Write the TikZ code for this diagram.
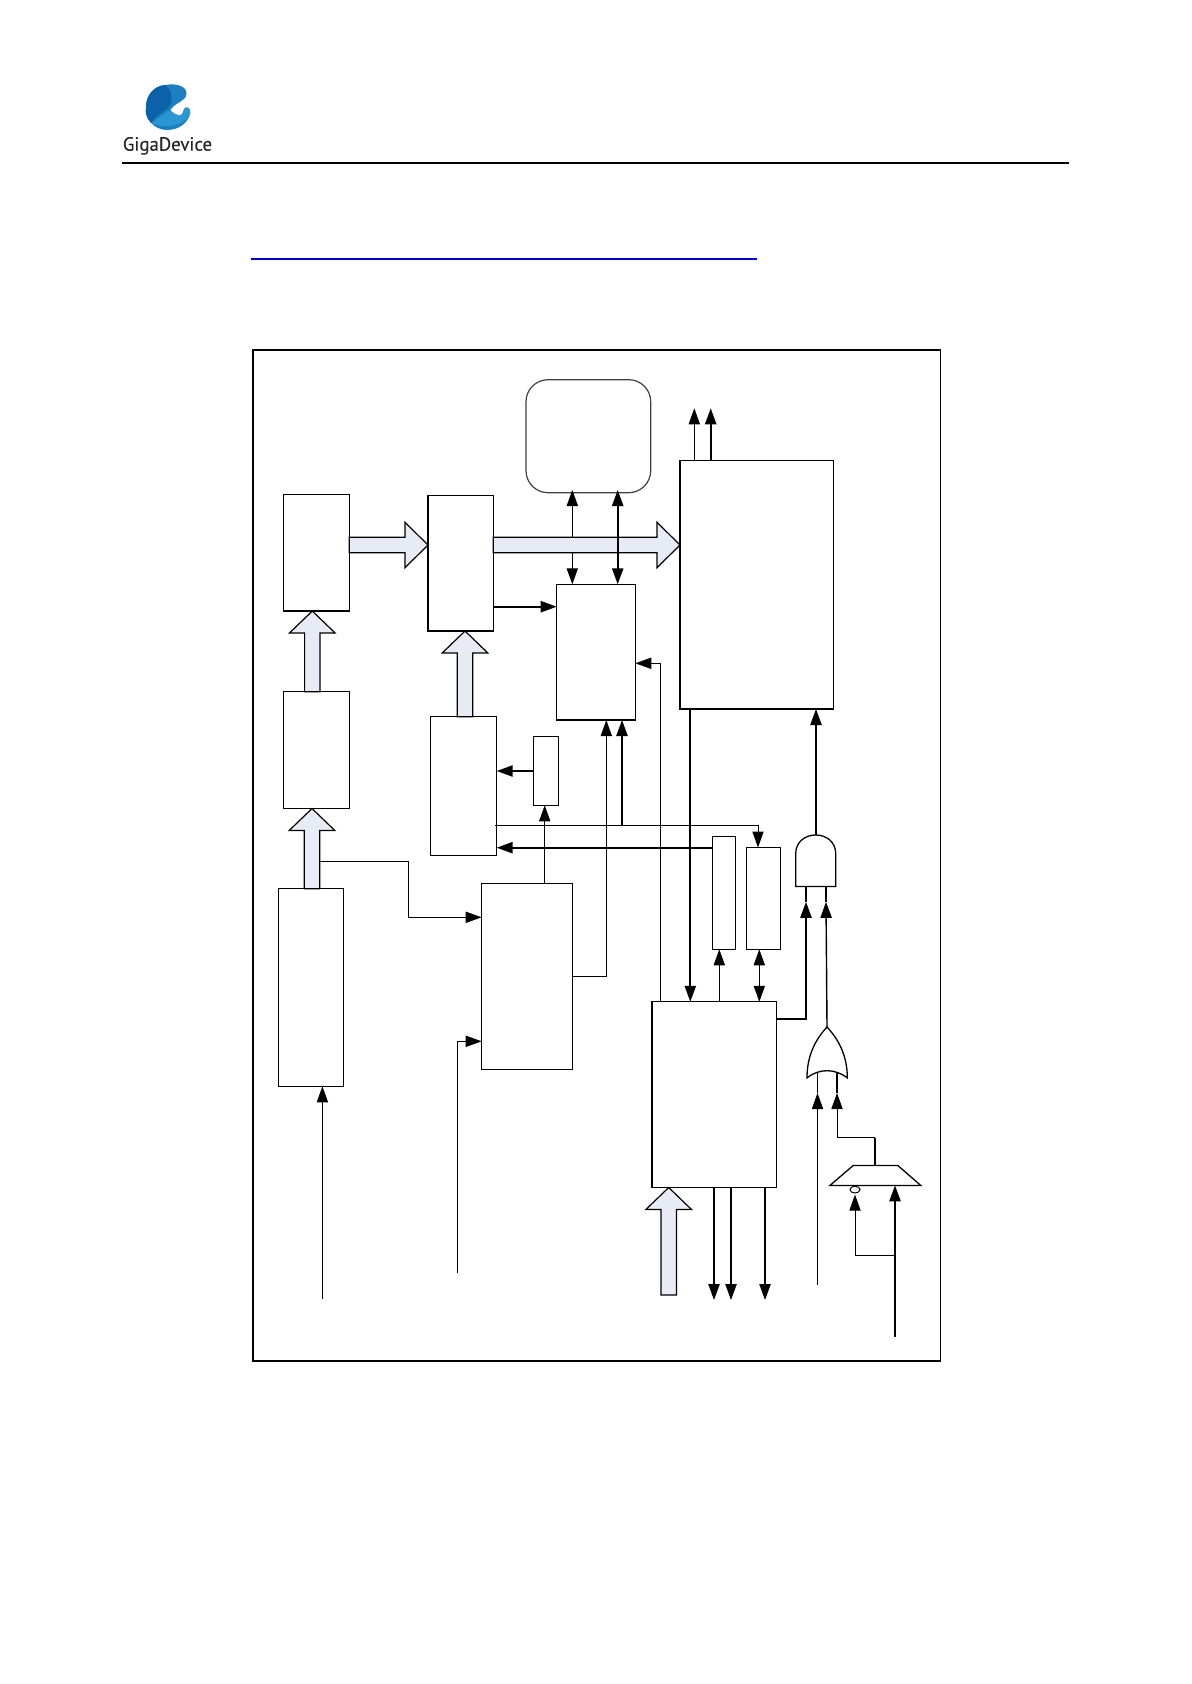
\documentclass[tikz,border=0pt]{standalone}
\usepackage{fontspec}
\setmainfont{Liberation Sans}
\newfontfamily\logofont[FakeBold=0.25]{PT Sans}
\usetikzlibrary{arrows.meta,calc,shapes.geometric}
\definecolor{blockfill}{HTML}{E6EBF5}
\definecolor{logodark}{HTML}{0B62A8}
\definecolor{logomid}{HTML}{1B7FC1}
\definecolor{logolight}{HTML}{2A97D2}
\tikzset{
  x=0.5pt,y=-0.5pt,
  box/.style={draw=black,fill=white,line width=0.65pt,inner sep=0pt,outer sep=0pt},
  roundbox/.style={draw=black!75,fill=white,line width=0.6pt,inner sep=0pt,outer sep=0pt,rounded corners=11pt},
  headed/.style={-{Triangle[length=8pt,width=5.6pt]}},
  dbl/.style={{Triangle[length=8pt,width=5.6pt]}-{Triangle[length=8pt,width=5.6pt]}},
  thinline/.style={line width=0.5pt,draw=black},
  thickline/.style={line width=0.9pt,draw=black},
  blockarrow/.style={draw=black,fill=blockfill,line width=0.6pt,line join=miter},
  gate/.style={draw=black,fill=white,line width=0.65pt},
  frame/.style={draw=black,line width=0.75pt,inner sep=0pt,outer sep=0pt}
}
% box by its corners, in pixels of the reference
\newcommand{\bx}[6][box]{%
  \pgfmathsetmacro{\bxw}{(#5-#3)*0.5}%
  \pgfmathsetmacro{\bxh}{(#6-#4)*0.5}%
  \pgfmathsetmacro{\bxcx}{(#5+#3)*0.5}%
  \pgfmathsetmacro{\bxcy}{(#6+#4)*0.5}%
  \node[#1,minimum width=\bxw pt,minimum height=\bxh pt] (#2) at (\bxcx,\bxcy) {};}
% block arrows from a tail coordinate to a tip coordinate
\newcommand{\blockright}[2]{%
  \draw[blockarrow] let \p1=(#1),\p2=(#2) in
    (\p2) -- (\x2-11.5pt,\y2+11.35pt) -- (\x2-11.5pt,\y2+3.85pt) -- (\x1,\y2+3.85pt)
    -- (\x1,\y2-3.85pt) -- (\x2-11.5pt,\y2-3.85pt) -- (\x2-11.5pt,\y2-11.35pt) -- cycle;}
\newcommand{\blockup}[2]{%
  \draw[blockarrow] let \p1=(#1),\p2=(#2) in
    (\p2) -- (\x2+11.4pt,\y2-11pt) -- (\x2+3.85pt,\y2-11pt) -- (\x2+3.85pt,\y1)
    -- (\x2-3.85pt,\y1) -- (\x2-3.85pt,\y2-11pt) -- (\x2-11.4pt,\y2-11pt) -- cycle;}
\begin{document}
\begin{tikzpicture}
\useasboundingbox (0,0) rectangle (1191,1684);
% header
\fill[logomid] (165,85) .. controls (176,83) and (186,86) .. (186.5,93)
  .. controls (186.5,98) and (183,100) .. (180,102) .. controls (176,104) and (172,107) .. (170.5,110)
  .. controls (172,113) and (177,116) .. (181,115) .. controls (184,113) and (183,108) .. (186,107.5)
  .. controls (189,107) and (191,110) .. (190,114) .. controls (188,122) and (180,130) .. (167,130)
  .. controls (154,130) and (145,119) .. (146,107) .. controls (146,95) and (154,86) .. (165,85) -- cycle;
\fill[logolight] (152,123) .. controls (158,118) and (164,114) .. (170.5,110)
  .. controls (172,113) and (177,116) .. (181,115) .. controls (184,113) and (183,108) .. (186,107.5)
  .. controls (189,107) and (191,110) .. (190,114) .. controls (188,119) and (183,122) .. (178,124)
  .. controls (170,127) and (160,127) .. (152,123) -- cycle;
\fill[logodark] (165,85) .. controls (170,88) and (173,95) .. (171,103)
  .. controls (169,110) and (157,114) .. (151,123) .. controls (146,118) and (145,112) .. (146,107)
  .. controls (146,95) and (154,86) .. (165,85) -- cycle;
\node[anchor=base west,inner sep=0pt,text=black!85,xscale=0.98] (brand) at (122.5,150.7)
  {\logofont\fontsize{9.6pt}{10pt}\selectfont GigaDevice};
\coordinate (ruleL) at (122,163); \coordinate (ruleR) at (1068.5,163);
\draw[line width=0.85pt] (ruleL) -- (ruleR);
\coordinate (linkL) at (251,258.8); \coordinate (linkR) at (757,258.8);
\draw[line width=0.8pt,draw={rgb,255:red,0;green,0;blue,200}] (linkL) -- (linkR);
% frame
\bx[frame]{outer}{253}{350}{940.4}{1360.8}
% boxes
\bx{A}{283.7}{494.3}{349.3}{611}
\bx{B}{428}{495.7}{493.3}{631}
\bx[roundbox]{M}{526}{379.7}{650.7}{492.7}
\bx{C}{680}{460.3}{833.2}{709}
\bx{D}{556.7}{584.3}{635.3}{720}
\bx{E}{283.7}{691.7}{349.3}{808.5}
\bx{F}{430.7}{716.7}{496.7}{855.3}
\bx{I}{533.7}{736.3}{558.3}{805.3}
\bx{H}{278.3}{888.7}{343.3}{1086.3}
\bx{J}{481.7}{883.3}{572.3}{1069.3}
\bx{L}{712.3}{836.4}{735.7}{949.3}
\bx{K}{746.7}{847.5}{780.3}{949.3}
\bx{G}{652}{1001.8}{776.7}{1187.5}
% gates
\draw[gate] (795.7,886.4) -- (795.7,853.6) .. controls (795.7,842) and (805,835) .. (815.7,835)
  .. controls (826.4,835) and (835.7,842) .. (835.7,853.6) -- (835.7,886.4) -- cycle;
\coordinate (andOut) at (816,835); \coordinate (andInL) at (806,886.4); \coordinate (andInR) at (826,886.4);
\draw[gate] (807,1077.9) .. controls (807,1056) and (815,1040) .. (827,1027)
  .. controls (839,1040) and (847.3,1056) .. (847.3,1077.9)
  .. controls (841,1073) and (834,1070.7) .. (827,1070.7)
  .. controls (820,1070.7) and (813,1073) .. (807,1077.9) -- cycle;
\coordinate (orOut) at (827,1027); \coordinate (orInL) at (817.3,1073); \coordinate (orInR) at (837,1073);
\draw[gate] (853.3,1165.4) -- (897.7,1165.4) -- (920.7,1185.4) -- (830,1185.4) -- cycle;
\coordinate (muxOut) at (875,1165.4); \coordinate (muxB) at (895,1185.4);
\node[draw=black,fill=white,line width=0.5pt,ellipse,inner sep=0pt,minimum width=5pt,minimum height=3.4pt] (inv) at (855,1189.6) {};
% line under the block arrow
\draw[thinline,dbl] (572.3,0 |- D.north) -- (572.3,490);
% block arrows
\blockright{A.east |- 0,545}{B.west |- 0,545}
\blockright{B.east |- 0,545}{C.west |- 0,545}
\blockup{E.north}{312.3,0 |- A.south}
\blockup{H.north}{312,0 |- E.south}
\blockup{F.north}{465,0 |- B.south}
\coordinate (gIn) at (668.7,1295);
\blockup{gIn}{668.7,0 |- G.south}
% connectors
\draw[thickline,dbl] (617.7,0 |- D.north) -- (617.7,490);
\draw[thickline,headed] (B.east |- 0,606.7) -- (D.west |- 0,606.7);
\draw[thinline,headed] (694.3,0 |- C.north) -- (694.3,408.3);
\draw[thickline,headed] (710.7,0 |- C.north) -- (710.7,408.3);
\draw[thinline,headed] (660.7,0 |- G.north) -- (660.7,663.3) -- (D.east |- 0,663.3);
\draw[thickline,headed] (I.west |- 0,771) -- (F.east |- 0,771);
\draw[thinline,headed] (544.7,0 |- J.north) -- (544.7,0 |- I.south);
\draw[thinline,headed] (J.east |- 0,976.3) -- (606.3,976.3) -- (606.3,0 |- D.south);
\coordinate (tapS) at (495,825.3);
\draw[thinline,headed] (tapS) -- (758,825.3) -- (758,0 |- K.north);
\draw[thickline,headed] (622,825.3) -- (622,0 |- D.south);
\draw[thickline,headed] (L.west |- 0,847.7) -- (F.east |- 0,847.7);
\draw[thickline,headed] (690.3,0 |- C.south) -- (690.3,0 |- G.north);
\draw[thinline,headed] (320.3,861) -- (408.3,861) -- (408.3,917.3) -- (J.west |- 0,917.3);
\coordinate (inJ) at (457.5,1273.3);
\draw[thinline,headed] (inJ) -- (457.5,1041.3) -- (J.west |- 0,1041.3);
\coordinate (inH) at (322.4,1298.7);
\draw[thinline,headed] (inH) -- (322.4,0 |- H.south);
\draw[thinline,headed] (719.3,0 |- G.north) -- (719.3,0 |- L.south);
\draw[thinline,dbl] (759.3,0 |- G.north) -- (759.3,0 |- K.south);
\draw[thickline,headed] (714,0 |- G.south) -- (714,1300);
\draw[thickline,headed] (731,0 |- G.south) -- (731,1300);
\draw[thickline,headed] (765,0 |- G.south) -- (765,1300);
\draw[thickline,headed] (andOut) -- (816,0 |- C.south);
\draw[thickline] (andInL) -- (806,901.8);
\draw[thickline] (andInR) -- (826,901.8);
\draw[thickline,headed] (G.east |- 0,1018.6) -- (806,1018.6) -- (806,901.8);
\draw[line width=0.7pt,headed] (orOut) -- (826,901.8);
\draw[thinline] (orInL) -- (817.3,1093);
\draw[thickline] (orInR) -- (837,1093);
\coordinate (inOr) at (817.5,1284.7);
\draw[thinline,headed] (inOr) -- (817.5,1093);
\draw[thickline] (muxOut) -- (875,1137.5);
\draw[thinline,headed] (875,1137.5) -- (837,1137.5) -- (837,1093);
\coordinate (inMux) at (895,1337.3);
\draw[thickline,headed] (inMux) -- (muxB);
\draw[thinline,headed] (895,1255.5) -- (855,1255.5) -- (855,1194.6);
\end{tikzpicture}
\end{document}
